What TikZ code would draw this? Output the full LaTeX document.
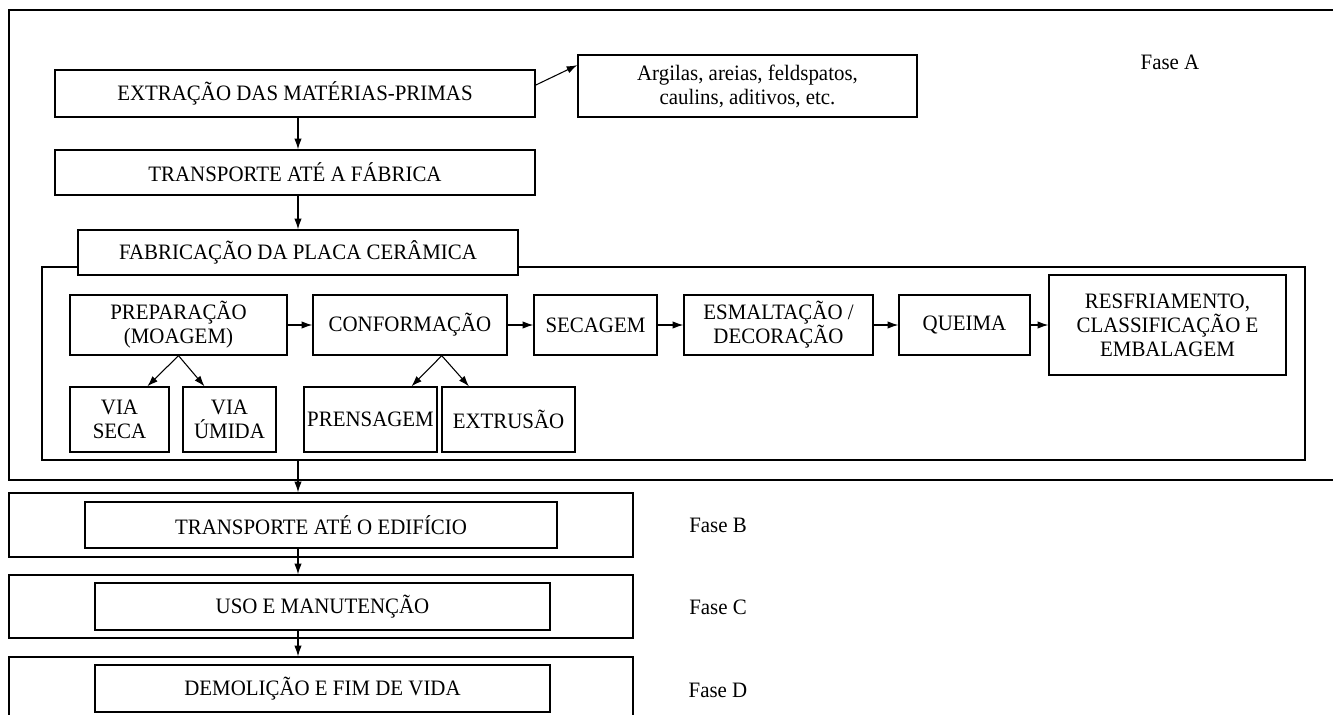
\documentclass[tikz,border=0pt]{standalone}
\usepackage{fontspec}
\setmainfont{Liberation Serif}[FakeStretch=0.95]
\usetikzlibrary{arrows.meta}
\tikzset{
	wh/.style 2 args={minimum width=#1*0.75pt,minimum height=#2*0.75pt},
	caixa/.style={draw,fill=white,line width=1pt,align=center,inner sep=0pt,
		font=\fontsize{16.5}{18}\selectfont},
	rotulo/.style={font=\fontsize{16.5}{18}\selectfont},
	seta/.style={-{Latex[length=8pt,width=5.5pt]},line width=0.8pt},
}
\begin{document}
\begin{tikzpicture}[x=0.75pt,y=-0.75pt]
		\useasboundingbox (0,0) rectangle (1333,714);
		\clip (0,0) rectangle (1333,714);
		% Fase A
		\draw[line width=1pt] (1340,10) -| (9,480) -- (1340,480);
		\node[rotulo] (rotuloA) at (1170,62) {Fase A};
		\node[caixa,wh={480}{47}] (extracao) at (295,93.5) {EXTRAÇÃO DAS MATÉRIAS-PRIMAS};
		\node[caixa,wh={339}{62}] (argilas) at (747.5,86) {Argilas, areias, feldspatos,\\caulins, aditivos, etc.};
		\node[caixa,wh={480}{45}] (transporte) at (295,172.5) {TRANSPORTE ATÉ A FÁBRICA};
		\node[caixa,wh={1263}{193}] (fabrica) at (673.5,363.5) {};
		\node[caixa,wh={440}{45}] (fabricacao) at (298,252.5) {FABRICAÇÃO DA PLACA CERÂMICA};
		% etapas
		\node[caixa,wh={217}{60}] (preparacao) at (178.5,325) {PREPARAÇÃO\\(MOAGEM)};
		\node[caixa,wh={194}{60}] (conformacao) at (410,325) {CONFORMAÇÃO};
		\node[caixa,wh={123}{60}] (secagem) at (595.5,325) {SECAGEM};
		\node[caixa,wh={189}{60}] (esmaltacao) at (778.5,325) {ESMALTAÇÃO /\\DECORAÇÃO};
		\node[caixa,wh={131}{60}] (queima) at (964.5,325) {QUEIMA};
		\node[caixa,wh={237}{100}] (resfriamento) at (1167.5,325) {RESFRIAMENTO,\\CLASSIFICAÇÃO E\\EMBALAGEM};
		\node[caixa,wh={99}{65}] (viaseca) at (119.5,419.5) {VIA\\SECA};
		\node[caixa,wh={93}{65}] (viaumida) at (229.5,419.5) {VIA\\ÚMIDA};
		\node[caixa,wh={133}{65}] (prensagem) at (370.5,419.5) {PRENSAGEM};
		\node[caixa,wh={133}{65}] (extrusao) at (508.5,419.5) {EXTRUSÃO};
		% Fases B, C, D
		\node[caixa,wh={624}{64}] (faseB) at (321,525) {};
		\node[caixa,wh={472}{46}] (edificio) at (321,525) {TRANSPORTE ATÉ O EDIFÍCIO};
		\node[rotulo] (rotuloB) at (718,525) {Fase B};
		\node[caixa,wh={624}{63}] (faseC) at (321,606.5) {};
		\node[caixa,wh={455}{47}] (uso) at (322.5,606.5) {USO E MANUTENÇÃO};
		\node[rotulo] (rotuloC) at (718,607) {Fase C};
		\node[caixa,wh={624}{103}] (faseD) at (321,708.5) {};
		\node[caixa,wh={455}{47}] (demolicao) at (322.5,688.5) {DEMOLIÇÃO E FIM DE VIDA};
		\node[rotulo] (rotuloD) at (718,690) {Fase D};
		% setas
		\draw[seta] (extracao.2) -- (argilas.173);
		\draw[seta] (extracao.south -| fabricacao) -- (transporte.north -| fabricacao);
		\draw[seta] (transporte.south -| fabricacao) -- (fabricacao);
		\draw[seta] (preparacao) -- (conformacao);
		\draw[seta] (conformacao) -- (secagem);
		\draw[seta] (secagem) -- (esmaltacao);
		\draw[seta] (esmaltacao) -- (queima);
		\draw[seta] (queima) -- (resfriamento);
		\draw[seta] (preparacao.south) -- (viaseca.50);
		\draw[seta] (preparacao.south) -- (viaumida.127);
		\draw[seta] (conformacao.-44) -- (prensagem.39);
		\draw[seta] (conformacao.-44) -- (extrusao.140);
		\draw[seta] (fabrica.south -| fabricacao) -- (faseB.north -| fabricacao);
		\draw[seta] (edificio.south -| fabricacao) -- (faseC.north -| fabricacao);
		\draw[seta] (uso.south -| fabricacao) -- (faseD.north -| fabricacao);
	\end{tikzpicture}
\end{document}
